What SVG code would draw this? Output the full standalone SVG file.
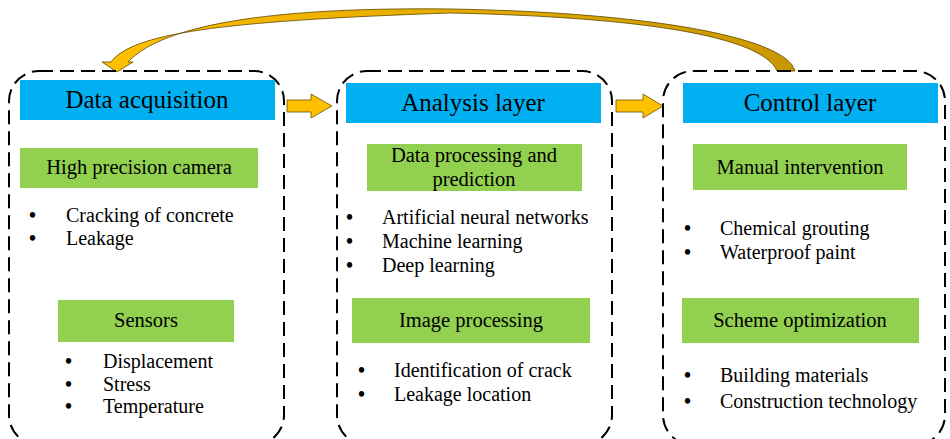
<svg xmlns="http://www.w3.org/2000/svg" width="950" height="439" viewBox="0 0 950 439">
  <defs>
    <linearGradient id="loopFill" x1="0" y1="0" x2="1" y2="0">
      <stop offset="0" stop-color="#FFC000"/>
      <stop offset="0.45" stop-color="#E8AE00"/>
      <stop offset="1" stop-color="#C89600"/>
    </linearGradient>
  </defs>
  <style>
    .frame { fill: none; stroke: #000; stroke-width: 2; stroke-dasharray: 14 7; }
    .head { fill: #00B0F0; }
    .sub { fill: #92D050; }
    .t { font-family: "Liberation Serif", "Times New Roman", serif; fill: #000; }
    .title { font-size: 25px; text-anchor: middle; }
    .label { font-size: 20.5px; text-anchor: middle; }
    .item { font-size: 20px; }
    .dot { font-weight: bold; }
    .arrow { fill: #FFC000; stroke: #6B5200; stroke-width: 0.8; }
    .loop { fill: url(#loopFill); stroke: #5E4800; stroke-width: 0.8; }
  </style>
  <rect width="950" height="439" fill="#fff"/>

  <!-- flow arrows between layers and the feedback loop -->
  <g id="connectors">
    <path class="loop" d="M 795 71 C 786 36, 640 12, 450 9 C 285 7, 165 22, 128 62 L 133 62 L 117 72 L 102 62 L 111 62 C 132 34, 215 21, 450 13 C 640 17, 762 36, 777 71 Z"/>
    <path class="arrow" d="M 287 100 L 311 100 L 311 94 L 332 106 L 311 118 L 311 112 L 287 112 Z"/>
    <path class="arrow" d="M 616 100 L 643 100 L 643 94 L 663 106 L 643 118 L 643 112 L 616 112 Z"/>
  </g>

  <!-- acquisition layer -->
  <g id="data-acquisition">
    <rect class="frame" x="9" y="71" width="275" height="374" rx="30"/>
    <rect class="head" x="20" y="80" width="255" height="40"/>
    <text class="t title" x="147" y="108">Data acquisition</text>
    <rect class="sub" x="20" y="148" width="238" height="40"/>
    <text class="t label" x="139" y="174">High precision camera</text>
    <text class="t item" y="222"><tspan class="dot" x="29">•</tspan><tspan x="66">Cracking of concrete</tspan></text>
    <text class="t item" y="245"><tspan class="dot" x="29">•</tspan><tspan x="66">Leakage</tspan></text>
    <rect class="sub" x="58" y="300" width="176" height="42"/>
    <text class="t label" x="146" y="327">Sensors</text>
    <text class="t item" y="368"><tspan class="dot" x="65">•</tspan><tspan x="103">Displacement</tspan></text>
    <text class="t item" y="391"><tspan class="dot" x="65">•</tspan><tspan x="103">Stress</tspan></text>
    <text class="t item" y="413"><tspan class="dot" x="65">•</tspan><tspan x="103">Temperature</tspan></text>
  </g>

  <!-- analysis layer -->
  <g id="analysis-layer">
    <rect class="frame" x="337" y="71" width="275" height="374" rx="30"/>
    <rect class="head" x="346" y="83" width="255" height="40"/>
    <text class="t title" x="473" y="111">Analysis layer</text>
    <rect class="sub" x="367" y="144" width="215" height="47"/>
    <text class="t label" x="474" y="162">Data processing and</text>
    <text class="t label" x="474" y="186">prediction</text>
    <text class="t item" y="224"><tspan class="dot" x="346">•</tspan><tspan x="382">Artificial neural networks</tspan></text>
    <text class="t item" y="248"><tspan class="dot" x="346">•</tspan><tspan x="382">Machine learning</tspan></text>
    <text class="t item" y="272"><tspan class="dot" x="346">•</tspan><tspan x="382">Deep learning</tspan></text>
    <rect class="sub" x="352" y="298" width="238" height="45"/>
    <text class="t label" x="471" y="327">Image processing</text>
    <text class="t item" y="377"><tspan class="dot" x="358">•</tspan><tspan x="394">Identification of crack</tspan></text>
    <text class="t item" y="401"><tspan class="dot" x="358">•</tspan><tspan x="394">Leakage location</tspan></text>
  </g>

  <!-- control layer -->
  <g id="control-layer">
    <rect class="frame" x="663" y="71" width="282" height="374" rx="30"/>
    <rect class="head" x="683" y="83" width="255" height="40"/>
    <text class="t title" x="810" y="111">Control layer</text>
    <rect class="sub" x="693" y="144" width="214" height="46"/>
    <text class="t label" x="800" y="174">Manual intervention</text>
    <text class="t item" y="235"><tspan class="dot" x="684">•</tspan><tspan x="720">Chemical grouting</tspan></text>
    <text class="t item" y="259"><tspan class="dot" x="684">•</tspan><tspan x="720">Waterproof paint</tspan></text>
    <rect class="sub" x="682" y="298" width="237" height="45"/>
    <text class="t label" x="800" y="327">Scheme optimization</text>
    <text class="t item" y="382"><tspan class="dot" x="684">•</tspan><tspan x="720">Building materials</tspan></text>
    <text class="t item" y="408"><tspan class="dot" x="684">•</tspan><tspan x="720">Construction technology</tspan></text>
  </g>
</svg>
